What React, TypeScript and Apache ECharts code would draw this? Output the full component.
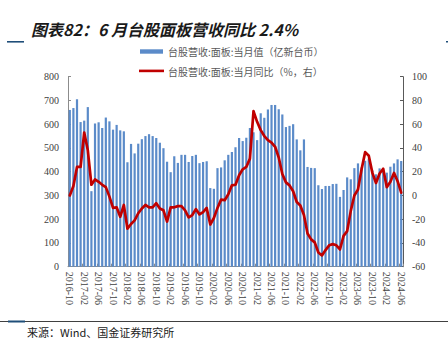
import React, { useEffect, useRef } from "react";
import * as echarts from "echarts";

// Monthly categories 2016-10 .. 2024-06
const startYear = 2016;
const startMonth = 10;
const monthCount = 93;
const categories: string[] = [];
for (let k = 0; k < monthCount; k++) {
  const m = startMonth - 1 + k;
  const y = startYear + Math.floor(m / 12);
  const mm = (m % 12) + 1;
  categories.push(`${y}-${mm < 10 ? "0" + mm : mm}`);
}

const barName = "台股营收:面板:当月值（亿新台币）";
const lineName = "台股营收:面板:当月同比（%，右）";

// 当月值（亿新台币）
const panelRevenue = [
  660, 668, 705, 609, 615, 672, 318, 603, 608, 584, 628, 612,
  577, 597, 574, 570, 440, 517, 477, 518, 537, 550, 558, 550,
  542, 522, 499, 442, 398, 465, 437, 471, 471, 441, 466, 471,
  436, 441, 444, 331, 328, 415, 418, 448, 471, 483, 503, 542,
  529, 543, 584, 566, 533, 646, 627, 662, 681, 681, 663, 641,
  588, 593, 600, 536, 490, 536, 420, 416, 415, 343, 327, 340,
  340, 348, 349, 294, 323, 376, 368, 415, 435, 418, 446, 455,
  405, 389, 414, 410, 396, 421, 435, 452, 445,
];

// 当月同比（%）
const panelYoY = [
  0, 8, 24, 24, 53, 38, 9, 13.5, 11.5, 9, 7, -1,
  -10.5, -10, -18, -8, -28, -24, -21, -15, -11, -8, -10, -10,
  -6.5, -11, -12.5, -22, -10, -10, -9, -9, -12.5, -18.5, -16.5, -11.5,
  -16, -14, -10.5, -24.5, -19, -10.5, -3.5, -4, 1, 8.5, 9, 17,
  22, 24, 31, 71, 62, 55, 50, 46.5, 44.5, 41, 32, 18,
  11, 8.5, 3.5, -5.5, -8.5, -16.5, -32, -37, -39.5, -48, -50.5, -46,
  -42, -41, -42, -45.5, -34, -30, -13, 0, 5, 22, 36.5, 33.5,
  19, 10.5, 18.5, 22.5, 7, 11.5, 19, 12, 2.4,
];

const leftTicks = { min: 0, max: 800, interval: 100 };
const rightTicks = { min: -60, max: 100, interval: 20 };

const BLUE = "#5b8bc9";
const RED = "#c00000";
const AXIS = "#8c8c8c";
const LABEL = "#404040";

export default function App() {
  const ref = useRef<HTMLDivElement>(null);
  useEffect(() => {
    if (!ref.current) return;
    const chart = echarts.init(ref.current, undefined, { renderer: "svg" });
    const axisFont = { fontSize: 10, fontFamily: "Liberation Serif", color: LABEL };
    chart.setOption({
      animation: false,
      backgroundColor: "#ffffff",
      title: {
        text: "图表82：6 月台股面板营收同比 2.4%",
        left: 26,
        top: 16,
        textStyle: {
          fontSize: 16,
          fontStyle: "italic",
          fontWeight: "bold",
          color: "#1a1a1a",
          fontFamily: "Noto Sans CJK SC",
        },
      },
      grid: { left: 68, right: 45, top: 76.7, bottom: 74.3 },
      xAxis: {
        type: "category",
        data: categories,
        boundaryGap: true,
        axisLine: { lineStyle: { color: AXIS } },
        axisTick: { show: true, inside: true, interval: 3, length: 3, lineStyle: { color: AXIS } },
        axisLabel: { ...axisFont, interval: 3, rotate: -90, margin: 5 },
      },
      yAxis: [
        {
          type: "value",
          ...leftTicks,
          axisLine: { show: true, lineStyle: { color: AXIS } },
          axisTick: { show: true, inside: true, length: 3, lineStyle: { color: AXIS } },
          splitLine: { show: false },
          axisLabel: { ...axisFont, margin: 9 },
        },
        {
          type: "value",
          position: "right",
          ...rightTicks,
          axisLine: { show: true, lineStyle: { color: "#595959" } },
          axisTick: { show: true, inside: true, length: 3, lineStyle: { color: "#595959" } },
          splitLine: { show: false },
          axisLabel: { ...axisFont, margin: 9 },
        },
      ],
      series: [
        {
          name: barName,
          type: "bar",
          data: panelRevenue,
          barWidth: 2.2,
          itemStyle: { color: BLUE },
        },
        {
          name: lineName,
          type: "line",
          yAxisIndex: 1,
          data: panelYoY,
          symbol: "none",
          lineStyle: { color: RED, width: 2.7, join: "round", cap: "round" },
          z: 5,
        },
      ],
      graphic: [
        { type: "rect", shape: { x: 7, y: 41, width: 17, height: 1.6 }, style: { fill: "#1f4e79" } },
        { type: "rect", shape: { x: 446, y: 41, width: 2, height: 1.6 }, style: { fill: "#1f4e79" } },
        { type: "rect", shape: { x: 140, y: 49.3, width: 23, height: 4.4 }, style: { fill: BLUE } },
        {
          type: "text",
          x: 168,
          y: 51.5,
          style: {
            text: barName,
            fontSize: 10,
            fontFamily: "Noto Sans CJK SC",
            fill: "#595959",
            verticalAlign: "middle",
          },
        },
        { type: "rect", shape: { x: 139, y: 69.6, width: 25, height: 2.6 }, style: { fill: RED } },
        {
          type: "text",
          x: 168,
          y: 71,
          style: {
            text: lineName,
            fontSize: 10,
            fontFamily: "Noto Sans CJK SC",
            fill: "#595959",
            verticalAlign: "middle",
          },
        },
        { type: "rect", shape: { x: 0, y: 321, width: 448, height: 1 }, style: { fill: "#404040" } },
        { type: "rect", shape: { x: 8, y: 320.5, width: 17, height: 2 }, style: { fill: "#1f4e79" } },
        {
          type: "text",
          x: 27,
          y: 332,
          style: {
            text: "来源：Wind、国金证券研究所",
            fontSize: 11,
            fontFamily: "Noto Sans CJK SC",
            fill: "#1a1a1a",
            verticalAlign: "middle",
          },
        },
      ],
    });
    return () => chart.dispose();
  }, []);
  return (
    <div
      ref={ref}
      style={{ position: "fixed", left: 0, top: 0, width: 448, height: 341 }}
    />
  );
}
